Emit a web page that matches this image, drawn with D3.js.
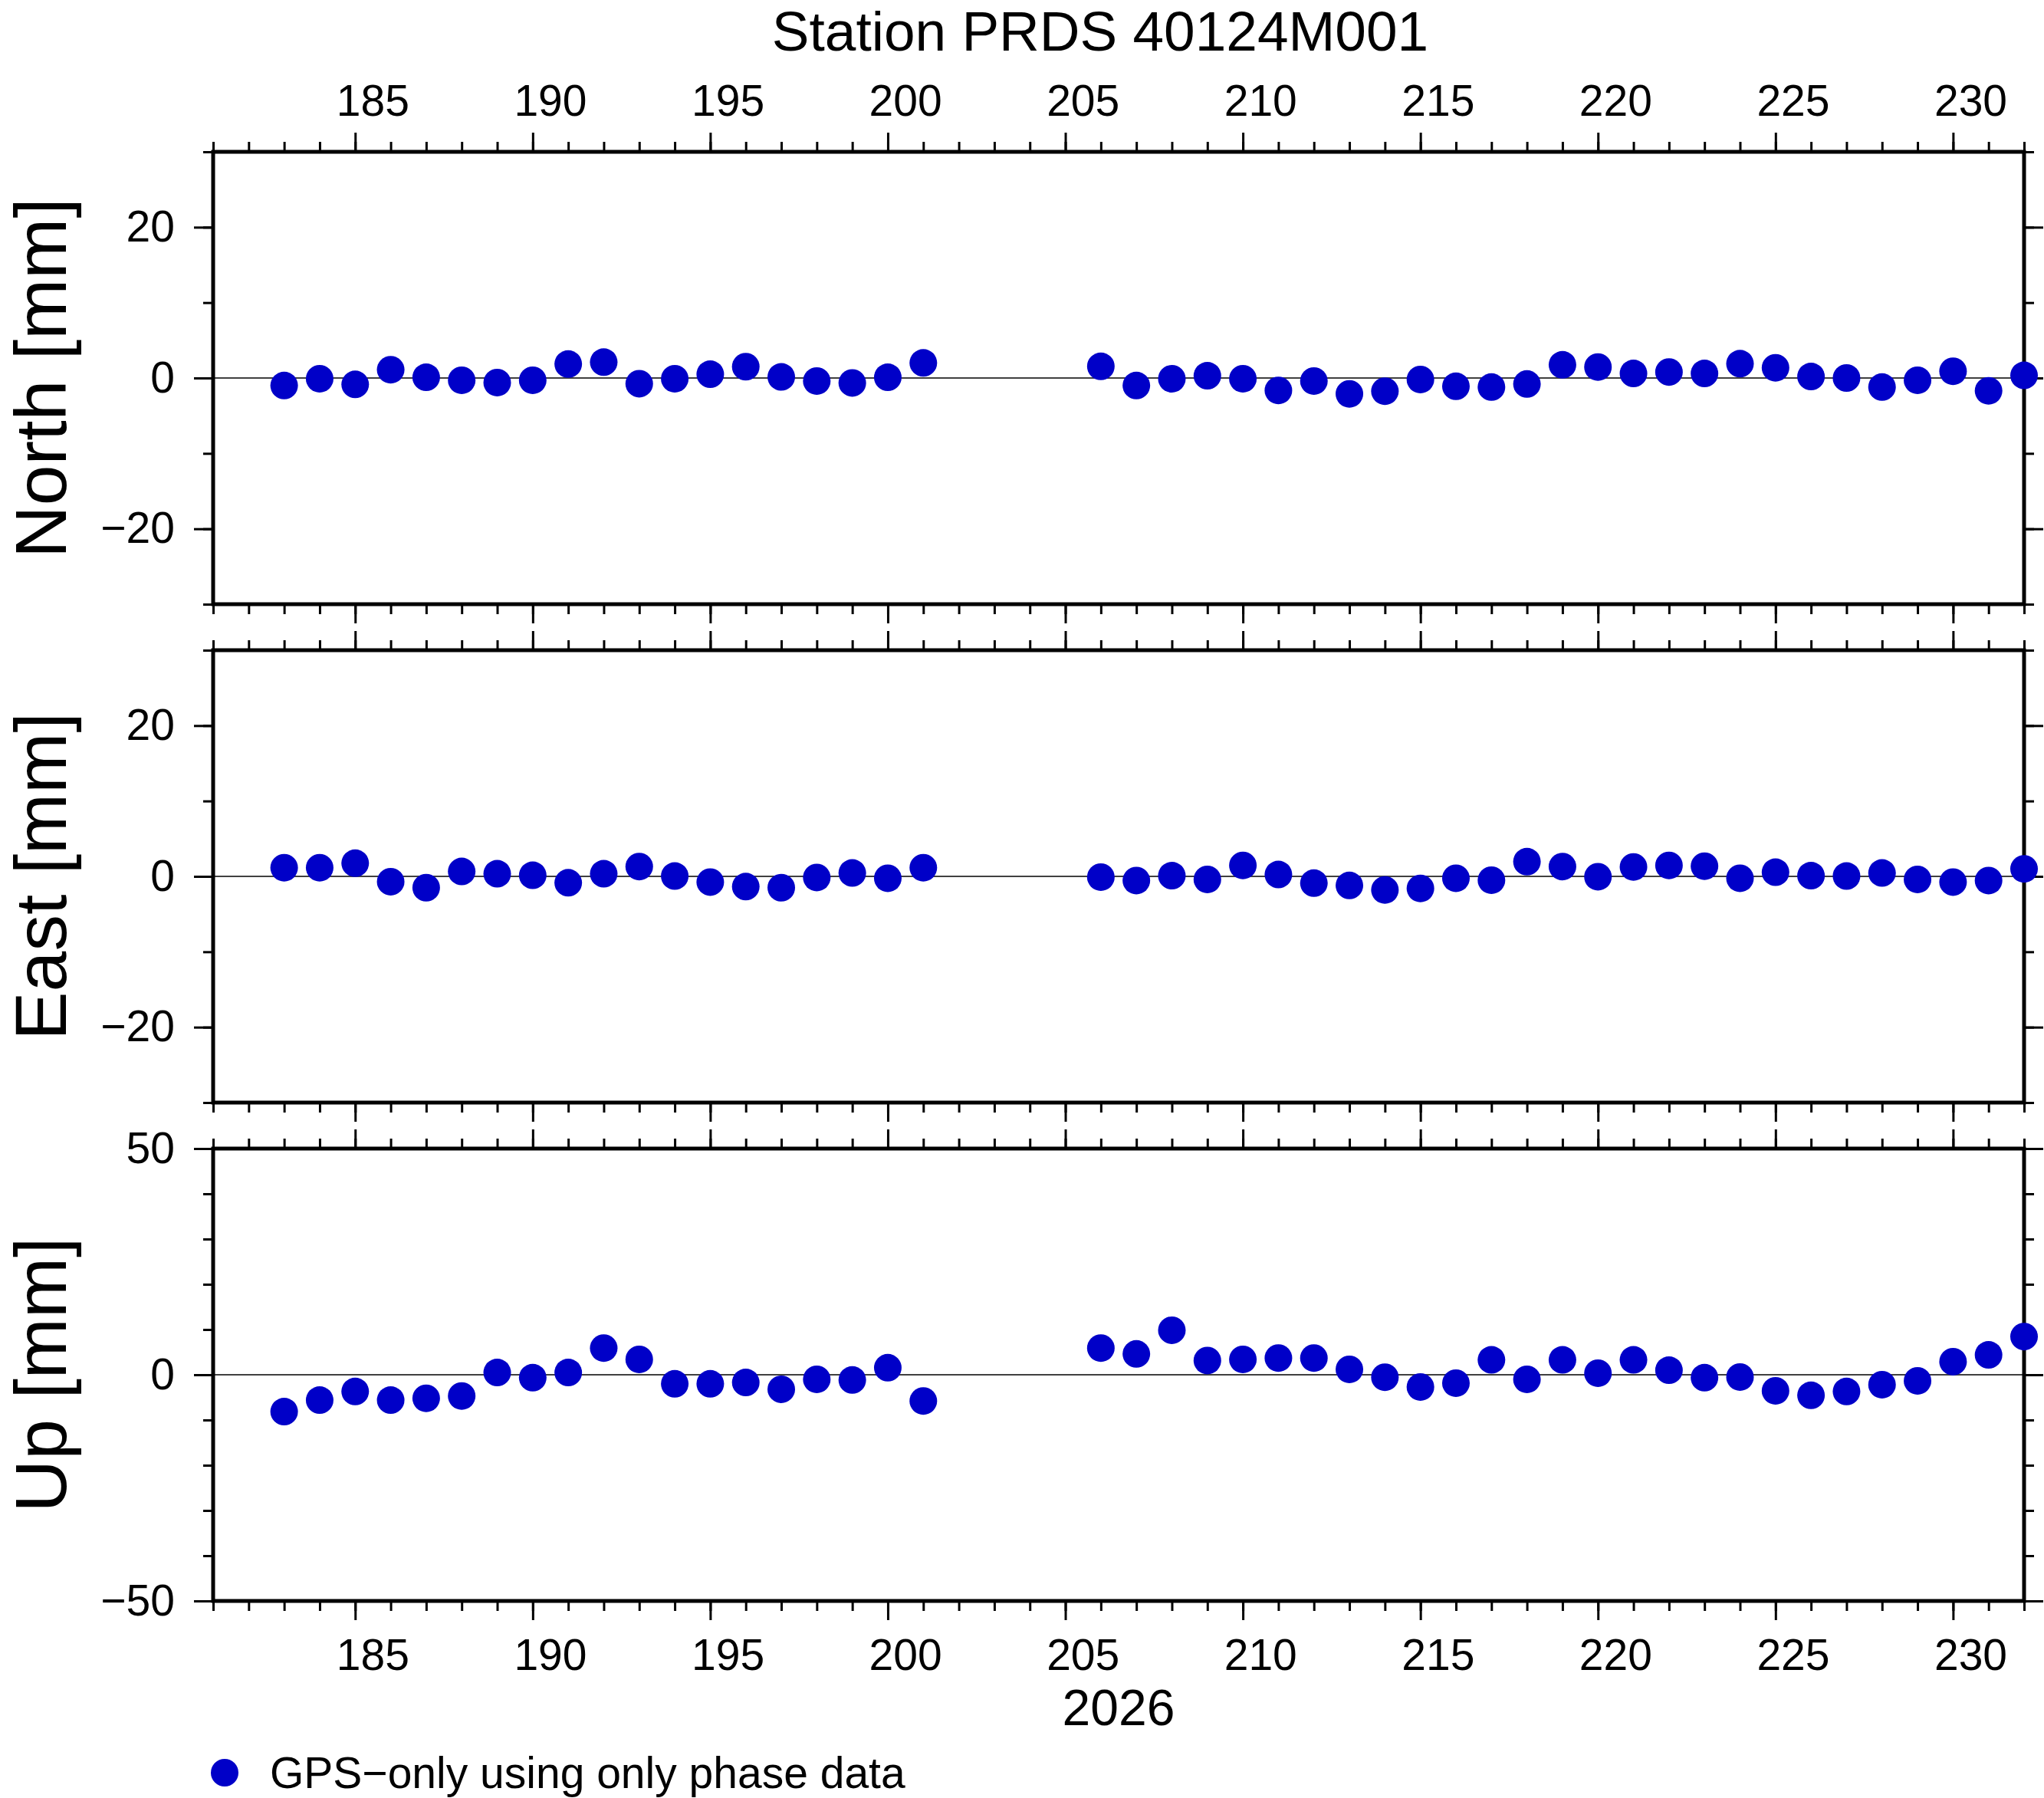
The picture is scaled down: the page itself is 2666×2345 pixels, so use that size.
<!DOCTYPE html>
<html>
<head>
<meta charset="utf-8">
<script src="https://cdn.jsdelivr.net/npm/d3@7"></script>
<style>
body { margin: 0; background: #fff; }
</style>
</head>
<body>
<div id="chart"></div>
<script>
const title = "Station PRDS 40124M001";
const yearLabel = "2026";
const legendLabel = "GPS\u2212only using only phase data";

// day of year of each daily solution
const days = [183, 184, 185, 186, 187, 188, 189, 190, 191, 192,
    193, 194, 195, 196, 197, 198, 199, 200, 201,
    206, 207, 208, 209, 210, 211, 212, 213, 214, 215,
    216, 217, 218, 219, 220, 221, 222, 223, 224, 225,
    226, 227, 228, 229, 230, 231, 232];

// residuals in mm
const north = [-1.0, -0.1, -0.85, 1.1, 0.1, -0.3, -0.6, -0.3, 1.85, 2.1,
    -0.75, -0.1, 0.5, 1.5, 0.15, -0.4, -0.65, 0.1, 2.0,
    1.55, -1.0, -0.1, 0.3, -0.1, -1.65, -0.4, -2.1, -1.75, -0.2,
    -1.1, -1.2, -0.8, 1.75, 1.45, 0.6, 0.8, 0.6, 1.9, 1.35,
    0.2, 0.0, -1.2, -0.3, 0.9, -1.7, 0.35];
const east = [1.15, 1.15, 1.75, -0.7, -1.5, 0.65, 0.35, 0.15, -0.85, 0.35,
    1.3, 0.05, -0.75, -1.35, -1.5, -0.15, 0.45, -0.25, 1.15,
    -0.1, -0.55, 0.1, -0.4, 1.45, 0.25, -0.9, -1.2, -1.8, -1.6,
    -0.25, -0.5, 1.95, 1.3, -0.05, 1.25, 1.45, 1.35, -0.25, 0.55,
    0.1, 0.05, 0.45, -0.4, -0.75, -0.55, 1.0];
const up = [-8.15, -5.6, -3.7, -5.6, -5.2, -4.7, 0.5, -0.65, 0.5, 5.9,
    3.4, -2.0, -2.0, -1.7, -3.2, -1.0, -1.15, 1.55, -5.8,
    5.9, 4.6, 9.85, 3.15, 3.4, 3.7, 3.7, 1.2, -0.55, -2.7,
    -1.85, 3.3, -1.0, 3.3, 0.35, 3.3, 1.0, -0.65, -0.5, -3.55,
    -4.55, -3.7, -2.2, -1.35, 2.9, 4.4, 8.45];

const dayExtent = [181, 232];
const dayTicks = [185, 190, 195, 200, 205, 210, 215, 220, 225, 230];

const northTicks = [-20, 0, 20];
const eastTicks = [-20, 0, 20];
const upTicks = [-50, 0, 50];

(function () {
    let width = 2666, height = 2345;
    let left = 278, right = 2640, panelH = 590;
    let font = "'Liberation Sans', Arial, Helvetica, sans-serif";
    let dotColor = "#0000c8";

    let svg = d3.select("#chart")
        .append("svg")
        .attr("width", width)
        .attr("height", height)
        .style("background", "#fff");

    let x = d3.scaleLinear().domain(dayExtent).range([left, right]);
    let minorDays = d3.range(dayExtent[0], dayExtent[1] + 1);

    let panels = [
        { label: "North [mm]", values: north, domain: [-30, 30], major: northTicks, step: 10, top: 198 },
        { label: "East [mm]", values: east, domain: [-30, 30], major: eastTicks, step: 10, top: 848 },
        { label: "Up [mm]", values: up, domain: [-50, 50], major: upTicks, step: 10, top: 1498 }
    ];

    function styleAxis(g) {
        g.select(".domain").remove();
        g.selectAll("line").attr("stroke", "#000").attr("stroke-width", 3);
        g.selectAll("text").attr("font-family", font).attr("font-size", 57).attr("fill", "#000");
    }

    panels.forEach((p, i) => {
        let bottom = p.top + panelH;
        let y = d3.scaleLinear().domain(p.domain).range([bottom, p.top]);
        let minorY = d3.range(p.domain[0], p.domain[1] + p.step / 2, p.step);
        let g = svg.append("g");

        // zero line
        g.append("line")
            .attr("x1", left).attr("x2", right)
            .attr("y1", y(0)).attr("y2", y(0))
            .attr("stroke", "#000")
            .attr("stroke-width", 1.5);

        // y axes
        g.append("g").attr("transform", `translate(${left},0)`)
            .call(d3.axisLeft(y).tickValues(minorY).tickSize(13).tickFormat(""))
            .call(styleAxis);
        g.append("g").attr("transform", `translate(${left},0)`)
            .call(d3.axisLeft(y).tickValues(p.major).tickSize(25).tickPadding(25))
            .call(styleAxis);
        g.append("g").attr("transform", `translate(${right},0)`)
            .call(d3.axisRight(y).tickValues(minorY).tickSize(13).tickFormat(""))
            .call(styleAxis);
        g.append("g").attr("transform", `translate(${right},0)`)
            .call(d3.axisRight(y).tickValues(p.major).tickSize(25).tickFormat(""))
            .call(styleAxis);

        // x axes, top and bottom of each panel
        g.append("g").attr("transform", `translate(0,${p.top})`)
            .call(d3.axisTop(x).tickValues(minorDays).tickSize(13).tickFormat(""))
            .call(styleAxis);
        g.append("g").attr("transform", `translate(0,${p.top})`)
            .call(d3.axisTop(x).tickValues(dayTicks).tickSize(25).tickFormat(""))
            .call(styleAxis);
        g.append("g").attr("transform", `translate(0,${bottom})`)
            .call(d3.axisBottom(x).tickValues(minorDays).tickSize(13).tickFormat(""))
            .call(styleAxis);
        g.append("g").attr("transform", `translate(0,${bottom})`)
            .call(d3.axisBottom(x).tickValues(dayTicks).tickSize(25).tickFormat(""))
            .call(styleAxis);

        // frame
        g.append("rect")
            .attr("x", left).attr("y", p.top)
            .attr("width", right - left).attr("height", panelH)
            .attr("fill", "none")
            .attr("stroke", "#000")
            .attr("stroke-width", 5);

        // y label
        g.append("text")
            .attr("transform", `translate(86,${(p.top + bottom) / 2}) rotate(-90)`)
            .attr("text-anchor", "middle")
            .attr("font-family", font)
            .attr("font-size", 95)
            .text(p.label);

        // day labels sit in the middle of each day interval
        if (i === 0 || i === panels.length - 1) {
            g.append("g")
                .selectAll("text")
                .data(dayTicks)
                .enter()
                .append("text")
                .attr("x", d => x(d + 0.5))
                .attr("y", i === 0 ? p.top - 47 : bottom + 90)
                .attr("text-anchor", "middle")
                .attr("font-family", font)
                .attr("font-size", 57)
                .text(d => d);
        }

        // points
        g.append("g")
            .selectAll("circle")
            .data(days.map((d, k) => [d, p.values[k]]))
            .enter()
            .append("circle")
            .attr("cx", d => x(d[0]))
            .attr("cy", d => y(d[1]))
            .attr("r", 18)
            .attr("fill", dotColor);
    });

    svg.append("text")
        .attr("x", 1435).attr("y", 66)
        .attr("text-anchor", "middle")
        .attr("font-family", font)
        .attr("font-size", 73)
        .text(title);

    svg.append("text")
        .attr("x", (left + right) / 2).attr("y", 2250)
        .attr("text-anchor", "middle")
        .attr("font-family", font)
        .attr("font-size", 66)
        .text(yearLabel);

    // legend
    svg.append("circle")
        .attr("cx", 293).attr("cy", 2312)
        .attr("r", 18)
        .attr("fill", dotColor);
    svg.append("text")
        .attr("x", 352).attr("y", 2332)
        .attr("font-family", font)
        .attr("font-size", 57)
        .text(legendLabel);
})();
</script>
</body>
</html>
